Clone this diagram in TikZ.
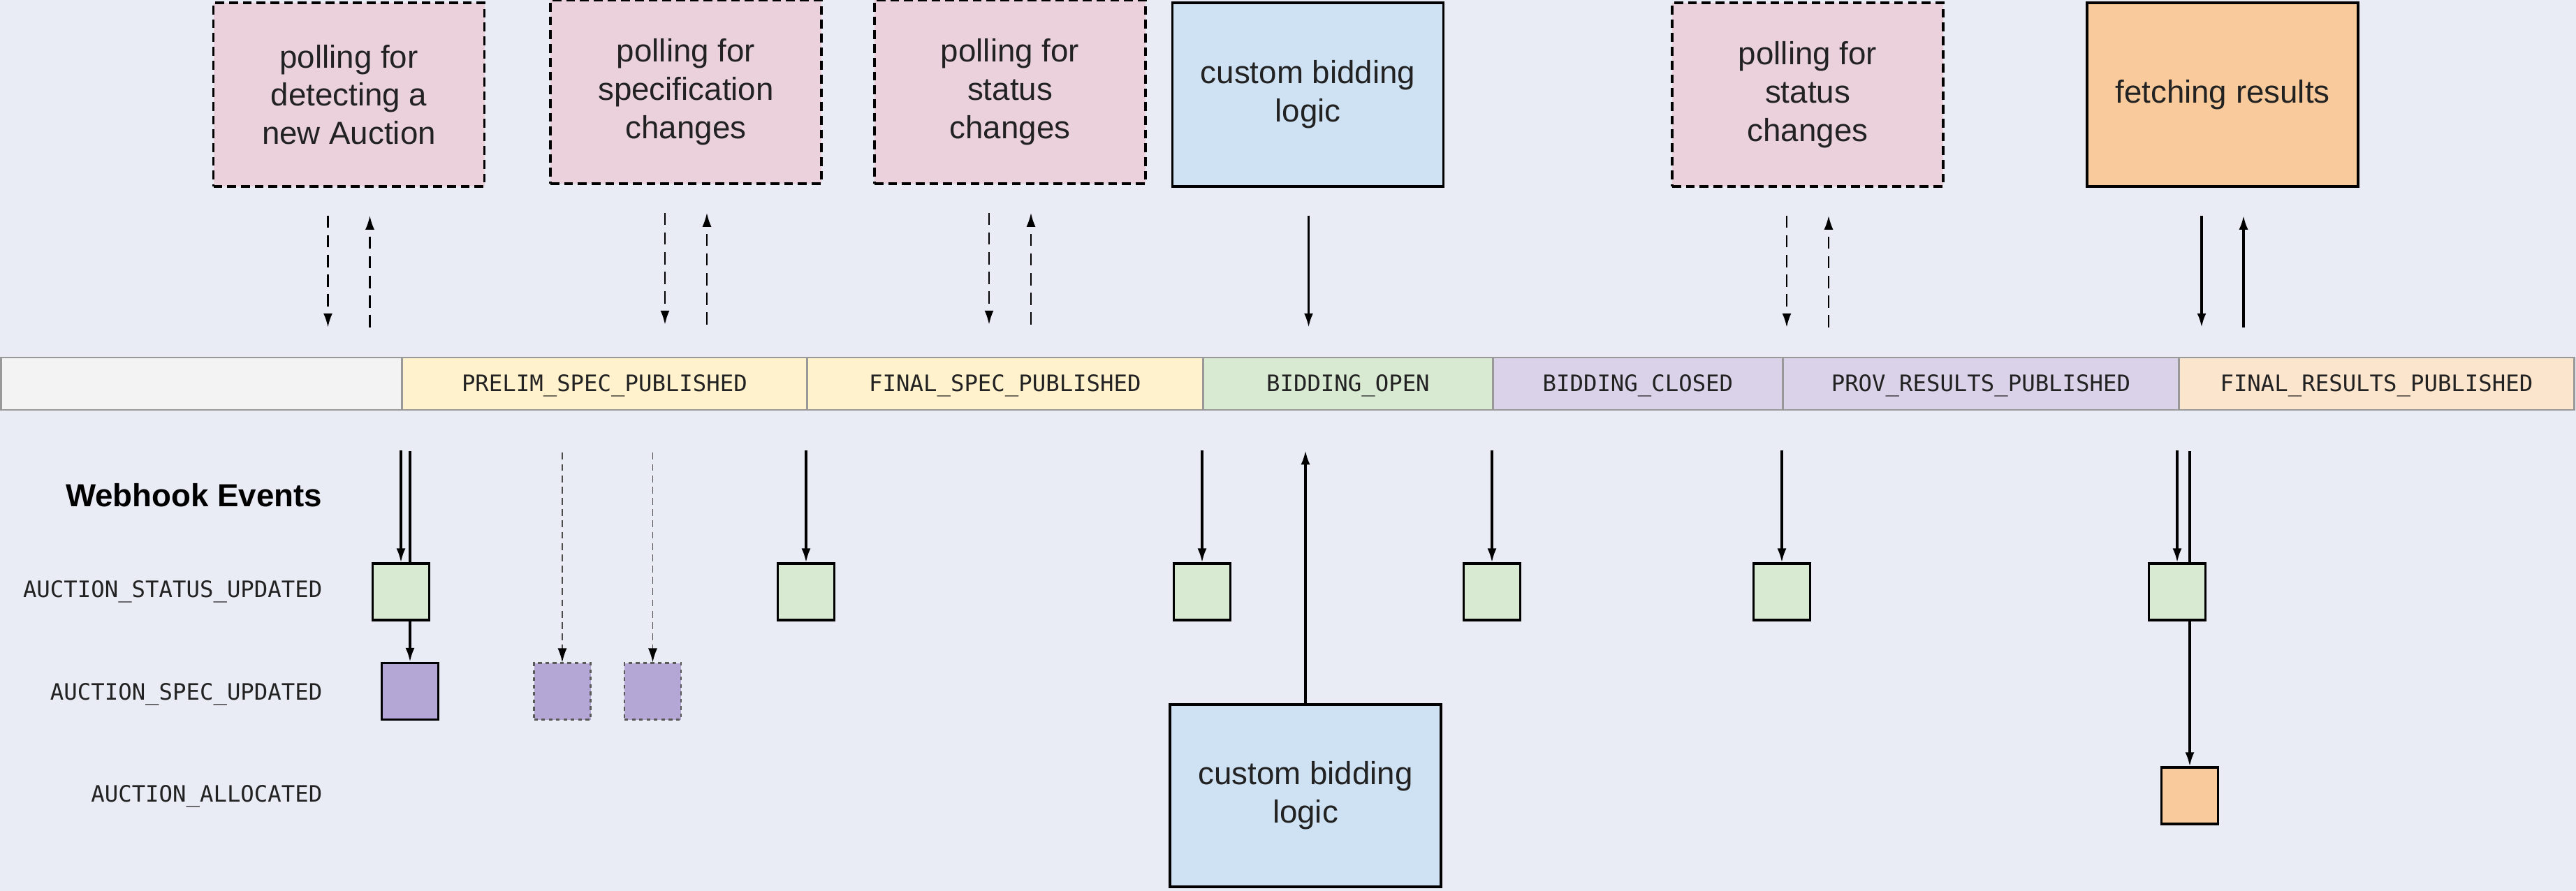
\documentclass[tikz,border=0pt]{standalone}
\usepackage{fontspec}
\setmainfont{Liberation Sans}
\setmonofont{DejaVu Sans Mono}
\usetikzlibrary{arrows.meta,calc}

\definecolor{backcol}{HTML}{E9EBF5}
\definecolor{pollcol}{HTML}{EAD1DC}
\definecolor{logiccol}{HTML}{CFE2F3}
\definecolor{fetchcol}{HTML}{F9CB9C}
\definecolor{nonecol}{HTML}{F3F3F3}
\definecolor{speccol}{HTML}{FFF2CC}
\definecolor{opencol}{HTML}{D9EAD3}
\definecolor{closedcol}{HTML}{D9D2E9}
\definecolor{finalcol}{HTML}{FCE5CD}
\definecolor{eventcol}{HTML}{B4A7D6}
\definecolor{barline}{HTML}{999999}
\definecolor{txtcol}{HTML}{222222}

\begin{document}
\begin{tikzpicture}[
    >={Latex[length=2mm,width=1.3mm]},
    task/.style={draw, line width=1pt, minimum width=3.88cm, minimum height=2.63cm,
      inner sep=0pt, align=center, text=txtcol, font=\fontsize{13}{15.6}\selectfont},
    polltask/.style={task, fill=pollcol, dash pattern=on 3.6pt off 2pt},
    phase/.style={draw=barline, line width=0.8pt, minimum height=0.75cm, inner sep=0pt,
      anchor=west, text height=0.8em, text depth=0.15em, text=txtcol,
      font=\fontsize{9.2}{11}\ttfamily},
    event/.style={draw, line width=0.9pt, minimum size=0.81cm, inner sep=0pt},
    maybe/.style={event, draw=black!65, line width=0.6pt, dash pattern=on 1.5pt off 1.5pt},
    rowlabel/.style={anchor=base east, inner sep=0pt, text=txtcol, font=\fontsize{9.2}{11}\ttfamily},
    pollarrow/.style={->, line width=0.7pt, dash pattern=on 5pt off 3pt},
    call/.style={->, line width=0.9pt},
    hint/.style={-{Latex[length=2mm,width=1.3mm,black]}, line width=0.5pt, draw=black!70,
      dash pattern=on 2.8pt off 1.8pt},
  ]
  \fill[backcol] (0,0) rectangle (36.88,-12.76);
  \useasboundingbox (0,0) rectangle (36.88,-12.76);

  % Client side
  \node[polltask] (poll1) at (4.995,-1.355) {polling for\\detecting a\\new Auction};
  \node[polltask] (poll2) at (9.82,-1.315) {polling for\\specification\\changes};
  \node[polltask] (poll3) at (14.46,-1.315) {polling for\\status\\changes};
  \node[task, fill=logiccol] (logic1) at (18.725,-1.355) {custom bidding\\logic};
  \node[polltask] (poll4) at (25.88,-1.355) {polling for\\status\\changes};
  \node[task, fill=fetchcol] (fetch) at (31.82,-1.355) {fetching results};

  \foreach \b in {poll1,poll2,poll3,poll4}{
    \coordinate (\b-a) at ($(\b.south)+(-0.30,-0.40)$);
    \coordinate (\b-b) at ($(\b-a)+(0,-1.60)$);
    \coordinate (\b-c) at ($(\b.south)+(0.30,-0.40)$);
    \coordinate (\b-d) at ($(\b-c)+(0,-1.60)$);
    \draw[pollarrow] (\b-a) -- (\b-b);
    \draw[pollarrow] (\b-d) -- (\b-c);
  }
  \coordinate (logic1-a) at ($(logic1.south)+(0.01,-0.40)$);
  \coordinate (logic1-b) at ($(logic1-a)+(0,-1.60)$);
  \draw[call] (logic1-a) -- (logic1-b);
  \coordinate (fetch-a) at ($(fetch.south)+(-0.30,-0.40)$);
  \coordinate (fetch-b) at ($(fetch-a)+(0,-1.60)$);
  \coordinate (fetch-c) at ($(fetch.south)+(0.30,-0.40)$);
  \coordinate (fetch-d) at ($(fetch-c)+(0,-1.60)$);
  \draw[call] (fetch-a) -- (fetch-b);
  \draw[call] (fetch-d) -- (fetch-c);

  % Auction status bar
  \node[phase, fill=nonecol, minimum width=5.74cm] (none) at (0,-5.495) {};
  \node[phase, fill=speccol, minimum width=5.80cm] (prelim) at (5.74,-5.495) {PRELIM\_SPEC\_PUBLISHED};
  \node[phase, fill=speccol, minimum width=5.67cm] (finalspec) at (11.54,-5.495) {FINAL\_SPEC\_PUBLISHED};
  \node[phase, fill=opencol, minimum width=4.15cm] (open) at (17.21,-5.495) {BIDDING\_OPEN};
  \node[phase, fill=closedcol, minimum width=4.15cm] (closed) at (21.36,-5.495) {BIDDING\_CLOSED};
  \node[phase, fill=closedcol, minimum width=5.67cm] (prov) at (25.51,-5.495) {PROV\_RESULTS\_PUBLISHED};
  \node[phase, fill=finalcol, minimum width=5.66cm] (finalres) at (31.18,-5.495) {FINAL\_RESULTS\_PUBLISHED};

  % Webhook events
  \node[anchor=base east, inner sep=0pt, font=\bfseries\fontsize{13}{15}\selectfont] (webhooks) at (4.62,-7.25) {Webhook Events};
  \node[rowlabel] (rowstatus) at (4.62,-8.55) {AUCTION\_STATUS\_UPDATED};
  \node[rowlabel] (rowspec) at (4.62,-10.02) {AUCTION\_SPEC\_UPDATED};
  \node[rowlabel] (rowalloc) at (4.62,-11.48) {AUCTION\_ALLOCATED};

  \node[event, fill=eventcol] (spec1) at (5.87,-9.90) {};
  \node[maybe, fill=eventcol] (spec2) at (8.05,-9.90) {};
  \node[maybe, fill=eventcol] (spec3) at (9.345,-9.90) {};
  \node[event, fill=fetchcol] (alloc) at (31.35,-11.395) {};

  \coordinate (spec1-in) at ($(spec1.north)+(0,3.02)$);
  \coordinate (alloc-in) at ($(alloc.north)+(0,4.51)$);
  \draw[call] (spec1-in) -- (spec1);
  \draw[call] (alloc-in) -- (alloc);
  \foreach \s in {spec2,spec3}{
    \coordinate (\s-in) at ($(\s.north)+(0,3.0)$);
    \draw[hint] (\s-in) -- (\s);
  }

  \foreach \n/\x in {st1/5.74, st2/11.54, st3/17.21, st4/21.36, st5/25.51, st6/31.17}{
    \node[event, fill=opencol] (\n) at (\x,-8.475) {};
    \coordinate (\n-in) at ($(\n.north)+(0,1.60)$);
    \draw[call] (\n-in) -- (\n);
  }

  % Bidding client
  \node[task, fill=logiccol, minimum height=2.61cm] (logic2) at (18.69,-11.395) {custom bidding\\logic};
  \coordinate (logic2-out) at ($(logic2.north)+(0,3.62)$);
  \draw[call] (logic2) -- (logic2-out);
\end{tikzpicture}
\end{document}
